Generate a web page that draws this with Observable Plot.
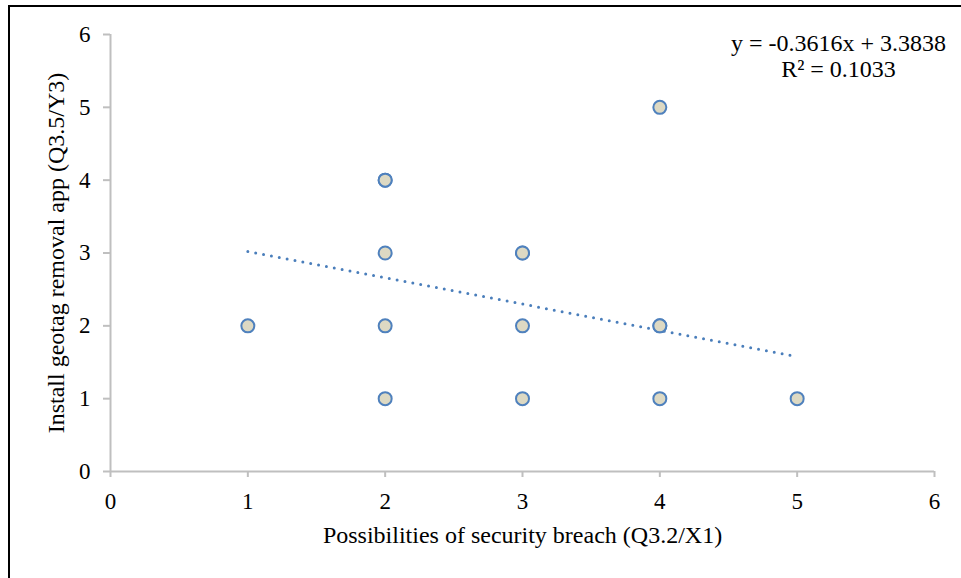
<!DOCTYPE html>
<html>
<head>
<meta charset="utf-8">
<script src="https://cdn.jsdelivr.net/npm/d3@7"></script>
<script src="https://cdn.jsdelivr.net/npm/@observablehq/plot@0.6"></script>
<style>
  html, body { margin: 0; padding: 0; background: #fff; }
  #wrap { position: relative; width: 961px; height: 578px; overflow: hidden; }
  #frame { position: absolute; left: 8px; top: 5px; width: 960px; height: 580px;
           border-left: 2px solid #000; border-top: 2px solid #000; pointer-events: none; }
  #chart { position: absolute; left: 0; top: 0; }
</style>
</head>
<body>
<div id="wrap"><div id="chart"></div><div id="frame"></div></div>
<script>
// Observed points (x = Q3.2/X1, y = Q3.5/Y3); repeats mark overlapping responses
const xValues = [1, 2, 2, 2, 2, 2, 3, 3, 3, 3, 4, 4, 4, 4, 5];
const yValues = [2, 4, 4, 3, 2, 1, 3, 3, 2, 1, 5, 2, 2, 1, 1];
// Linear trendline shown in the chart
const slope = -0.3616;
const intercept = 3.3838;
const rSquared = 0.1033;
const trendX = [1, 5];
const xTicks = [0, 1, 2, 3, 4, 5, 6];
const yTicks = [0, 1, 2, 3, 4, 5, 6];
const xTitle = "Possibilities of security breach (Q3.2/X1)";
const yTitle = "Install geotag removal app (Q3.5/Y3)";

const points = xValues.map((x, i) => ({x, y: yValues[i]}));
const trend = trendX.map(x => ({x, y: slope * x + intercept}));
const eqText = `y = ${slope}x + ${intercept}\nR² = ${rSquared}`;

const axisColor = "#bfbfbf";
const fmt = d3.format("d");

const chart = Plot.plot({
  width: 961,
  height: 578,
  marginLeft: 110,
  marginRight: 27,
  marginTop: 34,
  marginBottom: 107,
  style: {fontFamily: "'Liberation Serif', 'Times New Roman', serif", fontSize: "23px", color: "#000", background: "transparent", overflow: "visible"},
  x: {domain: [0, 6]},
  y: {domain: [0, 6]},
  marks: [
    Plot.ruleY([0], {stroke: axisColor, strokeWidth: 2}),
    Plot.ruleX([0], {stroke: axisColor, strokeWidth: 2}),
    Plot.axisX(xTicks, {tickSize: 6, tickPadding: 15, tickFormat: fmt, stroke: axisColor, strokeWidth: 2, fill: "#000", fontSize: 23, label: null}),
    Plot.axisY(yTicks, {tickSize: 7, tickPadding: 13, tickFormat: fmt, stroke: axisColor, strokeWidth: 2, fill: "#000", fontSize: 23, label: null}),
    Plot.text([xTitle], {frameAnchor: "bottom", textAnchor: "middle", lineAnchor: "bottom", dy: 71, fontSize: 24, fill: "#000"}),
    Plot.text([yTitle], {frameAnchor: "left", textAnchor: "middle", lineAnchor: "bottom", rotate: -90, dx: -47, fontSize: 24, fill: "#000"}),
    Plot.line(trend, {x: "x", y: "y", stroke: "#4a7ebb", strokeWidth: 3, strokeDasharray: "0 8", strokeLinecap: "round"}),
    Plot.dot(points, {x: "x", y: "y", r: 6.5, fill: "#ddd9c3", stroke: "#4f81bd", strokeWidth: 2}),
    Plot.text([eqText], {frameAnchor: "top-right", textAnchor: "middle", lineAnchor: "top", lineHeight: 1.08, dx: -96, dy: -2, fontSize: 24, fill: "#000"})
  ]
});
document.getElementById("chart").appendChild(chart);
</script>
</body>
</html>
